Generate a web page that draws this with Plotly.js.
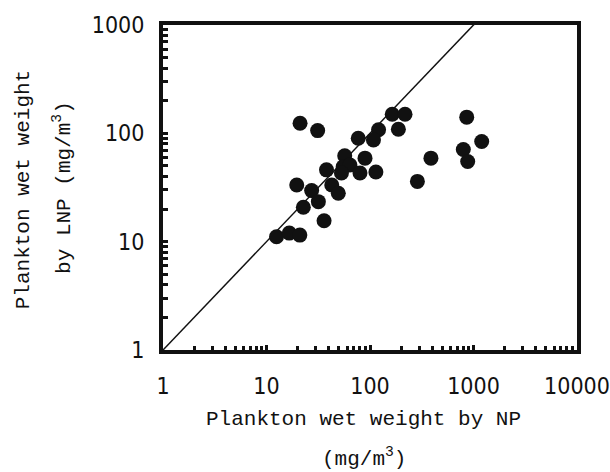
<!DOCTYPE html>
<html>
<head>
<meta charset="utf-8">
<script src="https://cdn.plot.ly/plotly-3.0.1.min.js"></script>
<style>html,body{margin:0;padding:0;background:#fff;}#chart{width:610px;height:472px;}</style>
</head>
<body>
<div id="chart"></div>
<script>
// Plankton wet weight (mg/m^3): NP (x) vs LNP (y)
const npWeight = [21.1, 31.2, 164, 218, 188, 121, 108, 77, 57, 89.5, 38, 55, 64, 53, 80, 114,
                  19.6, 27.3, 42.7, 49.4, 31.7, 22.7, 36, 12.5, 16.6, 21, 860, 1200, 797, 879, 388, 287];
const lnpWeight = [124, 106, 150, 150, 109, 108, 87, 90, 62, 59, 46, 49, 51, 43, 43, 44,
                   33.4, 29.6, 33.4, 28, 23.4, 20.8, 15.6, 11.1, 12, 11.5, 141, 84, 71, 55, 59, 36];
const oneToOne = [1, 10000];
const xTickVals = [1, 10, 100, 1000, 10000];
const xTickText = ['1', '10', '100', '1000', '10000'];
const yTickVals = [1, 10, 100, 1000];
const yTickText = ['1', '10', '100', '1000'];

function minorTicks(decades) {
  const out = [];
  for (let d = 0; d < decades; d++) {
    for (let m = 2; m <= 9; m++) out.push(m * Math.pow(10, d));
  }
  return out;
}

const tickFont = {family: 'Liberation Sans Narrow, DejaVu Sans Condensed, Roboto, sans-serif', size: 23, color: '#111'};
const titleFont = {family: 'Liberation Mono, DejaVu Sans Mono, monospace', size: 21, color: '#111'};

const traces = [
  {x: oneToOne, y: oneToOne, mode: 'lines', line: {color: '#111', width: 1.5}, hoverinfo: 'skip', showlegend: false},
  {x: npWeight, y: lnpWeight, mode: 'markers', marker: {color: '#111', size: 15}, showlegend: false}
];

const axisCommon = {
  type: 'log', showgrid: false, zeroline: false,
  showline: true, linecolor: '#111', linewidth: 4, mirror: true,
  ticks: 'inside', ticklen: 5, tickwidth: 3, tickcolor: '#111',
  tickfont: tickFont
};

const layout = {
  width: 610, height: 472,
  margin: {l: 163, r: 33, t: 25, b: 122},
  paper_bgcolor: '#fff', plot_bgcolor: '#fff',
  xaxis: Object.assign({}, axisCommon, {
    range: [0, 4], tickmode: 'array', tickvals: xTickVals, ticktext: xTickText, ticklabelstandoff: 12,
    minor: {tickmode: 'array', tickvals: minorTicks(4), ticks: 'inside', ticklen: 4, tickwidth: 3, tickcolor: '#111', showgrid: false}
  }),
  yaxis: Object.assign({}, axisCommon, {
    range: [0, 3], tickmode: 'array', tickvals: yTickVals, ticktext: yTickText, ticklabelstandoff: 10,
    minor: {tickmode: 'array', tickvals: minorTicks(3), ticks: 'inside', ticklen: 5, tickwidth: 3, tickcolor: '#111', showgrid: false}
  }),
  annotations: [
    {text: 'Plankton wet weight by NP', xref: 'paper', yref: 'paper', x: 0.485, y: -0.213, xanchor: 'center', yanchor: 'middle', showarrow: false, font: titleFont},
    {text: '(mg/m<sup>3</sup>)', xref: 'paper', yref: 'paper', x: 0.485, y: -0.33, xanchor: 'center', yanchor: 'middle', showarrow: false, font: titleFont},
    {text: 'Plankton wet weight', xref: 'paper', yref: 'paper', x: -0.337, y: 0.493, xanchor: 'center', yanchor: 'middle', textangle: -90, showarrow: false, font: titleFont},
    {text: 'by LNP (mg/m<sup>3</sup>)', xref: 'paper', yref: 'paper', x: -0.243, y: 0.5, xanchor: 'center', yanchor: 'middle', textangle: -90, showarrow: false, font: titleFont}
  ]
};

Plotly.newPlot('chart', traces, layout, {displayModeBar: false, staticPlot: true});
</script>
</body>
</html>
